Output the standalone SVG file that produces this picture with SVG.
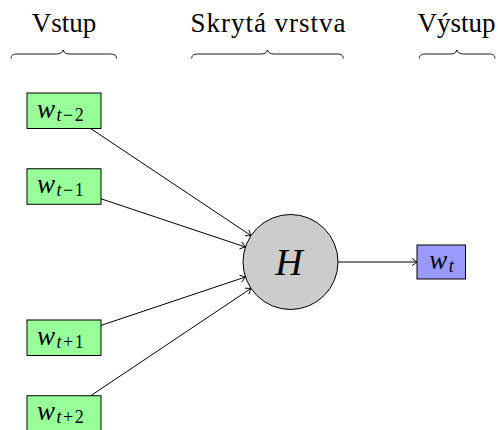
<svg xmlns="http://www.w3.org/2000/svg" width="498" height="430" viewBox="0 0 498 430">
  <style>
    text { font-family: 'Liberation Serif', 'DejaVu Serif', serif; fill: #000; }
    .hdr { font-size: 27px; }
    .brace { fill: none; stroke: #000; stroke-width: 0.9; }
    .word { fill: #99ff99; stroke: #000; stroke-width: 1; }
    .out { fill: #9999ff; stroke: #000; stroke-width: 1; }
    .hidden { fill: #cccccc; stroke: #000; stroke-width: 1; }
    .math { font-size: 27px; font-style: italic; }
    .sub { font-size: 18px; }
    .up { font-style: normal; }
    .edge { fill: none; stroke: #000; stroke-width: 1; marker-end: url(#tip); }
  </style>
  <defs>
    <!-- thin open "to" arrow tip -->
    <marker id="tip" viewBox="-6 -5 7 10" refX="0" refY="0" markerWidth="7" markerHeight="10" markerUnits="userSpaceOnUse" orient="auto">
      <path d="M-5,-3.6 Q-1.2,-0.8 0,0 Q-1.2,0.8 -5,3.6" fill="none" stroke="#000" stroke-width="0.9"/>
    </marker>
  </defs>

  <rect width="498" height="430" fill="#fff"/>

  <!-- column headings with braces -->
  <g id="heading-input">
    <text class="hdr" x="64" y="31.5" text-anchor="middle">Vstup</text>
    <path class="brace" d="M11,58.5 C11,55.5 13,54 17,54 L56,54 C60,54 62,53 63,50 C64,53 66,54 70,54 L110.5,54 C114.5,54 116.5,55.5 116.5,58.5"/>
  </g>
  <g id="heading-hidden">
    <text class="hdr" x="268" y="31.5" text-anchor="middle" textLength="155" lengthAdjust="spacing">Skrytá vrstva</text>
    <path class="brace" d="M191.7,58.5 C191.7,55.5 193.7,54 197.7,54 L260.5,54 C264.5,54 266.5,53 267.5,50 C268.5,53 270.5,54 274.5,54 L337.3,54 C341.3,54 343.3,55.5 343.3,58.5"/>
  </g>
  <g id="heading-output">
    <text class="hdr" x="456.5" y="31.5" text-anchor="middle">Výstup</text>
    <path class="brace" d="M419.3,58.5 C419.3,55.5 421.3,54 425.3,54 L450,54 C454,54 456,53 457,50 C458,53 460,54 464,54 L489,54 C493,54 495,55.5 495,58.5"/>
  </g>

  <!-- connectors -->
  <g id="connectors">
    <line class="edge" x1="90.6" y1="128.5" x2="251.0" y2="235.6"/>
    <line class="edge" x1="101" y1="198.8" x2="245.4" y2="247.0"/>
    <line class="edge" x1="101" y1="325.4" x2="245.4" y2="277.0"/>
    <line class="edge" x1="90.6" y1="395.8" x2="251.0" y2="288.4"/>
    <line class="edge" x1="338" y1="262" x2="417" y2="262"/>
  </g>

  <!-- context words -->
  <g id="w-tm2">
    <rect class="word" x="27" y="93" width="74" height="35.5"/>
    <text class="math" x="37" y="117.5">w<tspan class="sub" dx="1.5" dy="3">t</tspan><tspan class="sub up" dx="1.5">−</tspan><tspan class="sub up" dx="1.5">2</tspan></text>
  </g>
  <g id="w-tm1">
    <rect class="word" x="27" y="168.75" width="74" height="35.5"/>
    <text class="math" x="37" y="193.25">w<tspan class="sub" dx="1.5" dy="3">t</tspan><tspan class="sub up" dx="1.5">−</tspan><tspan class="sub up" dx="1.5">1</tspan></text>
  </g>
  <g id="w-tp1">
    <rect class="word" x="27" y="320" width="74" height="35.5"/>
    <text class="math" x="37" y="344.5">w<tspan class="sub" dx="1.5" dy="3">t</tspan><tspan class="sub up" dx="1.5">+</tspan><tspan class="sub up" dx="1.5">1</tspan></text>
  </g>
  <g id="w-tp2">
    <rect class="word" x="27" y="395.75" width="74" height="35.5"/>
    <text class="math" x="37" y="420.25">w<tspan class="sub" dx="1.5" dy="3">t</tspan><tspan class="sub up" dx="1.5">+</tspan><tspan class="sub up" dx="1.5">2</tspan></text>
  </g>

  <!-- hidden layer -->
  <g id="hidden">
    <circle class="hidden" cx="290.5" cy="262" r="47.5"/>
    <text class="math" x="289" y="275" text-anchor="middle" style="font-size:38px">H</text>
  </g>

  <!-- predicted word -->
  <g id="w-t">
    <rect class="out" x="417" y="245" width="48.5" height="34"/>
    <text class="math" x="429.3" y="268.5">w<tspan class="sub" dx="1.5" dy="3">t</tspan></text>
  </g>
</svg>
